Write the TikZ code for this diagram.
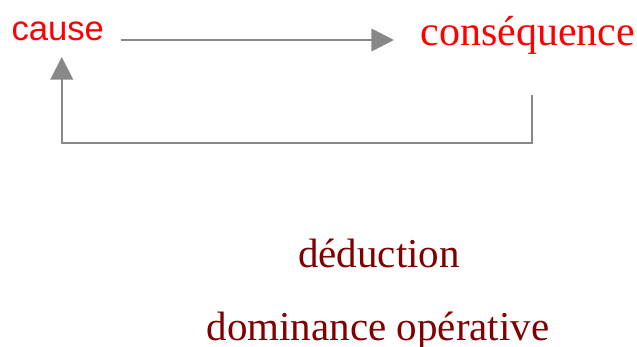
\documentclass[tikz,border=0pt]{standalone}
\usepackage{fontspec}
\setmainfont{Liberation Serif}
\newfontfamily\causefont{Liberation Sans}
\usetikzlibrary{arrows.meta,calc}
\tikzset{every picture/.style={line width=0.75pt}}

\begin{document}
\begin{tikzpicture}[x=0.75pt,y=0.75pt,yscale=-1,xscale=1]
\path[use as bounding box] (0,0) rectangle (637,347); %set diagram size

\tikzset{
  flow/.style={color={rgb, 255:red, 136; green, 136; blue, 136}, line width=1.5pt, -{Triangle[length=17pt,width=17pt]}},
  termtxt/.style={text={rgb, 255:red, 255; green, 0; blue, 0}, inner sep=0pt},
  notetxt/.style={text={rgb, 255:red, 128; green, 0; blue, 0}, inner sep=0pt, anchor=base, font=\fontsize{30.75}{32}\selectfont},
}

% cause -> consequence
\node [termtxt, anchor=base west, font=\causefont\fontsize{26}{28}\selectfont] (cause) at (11,40) {cause};
\node [termtxt, anchor=base west, font=\fontsize{31.5}{33}\selectfont] (cons) at (420,45) {conséquence};

\draw [flow] ($(cause.base east)+(16,0)$) -- ($(cause.base east -| cons.base west)+(-26,0)$);
% return path
\draw [flow] ($(cons.base west)+(112,50)$) -- ++(0,48) -| ($(cause.base)+(4,17)$);

\node [notetxt] (ded) at (379,267) {déduction};
\node [notetxt] (dom) at (378,340) {dominance opérative};

\end{tikzpicture}
\end{document}
